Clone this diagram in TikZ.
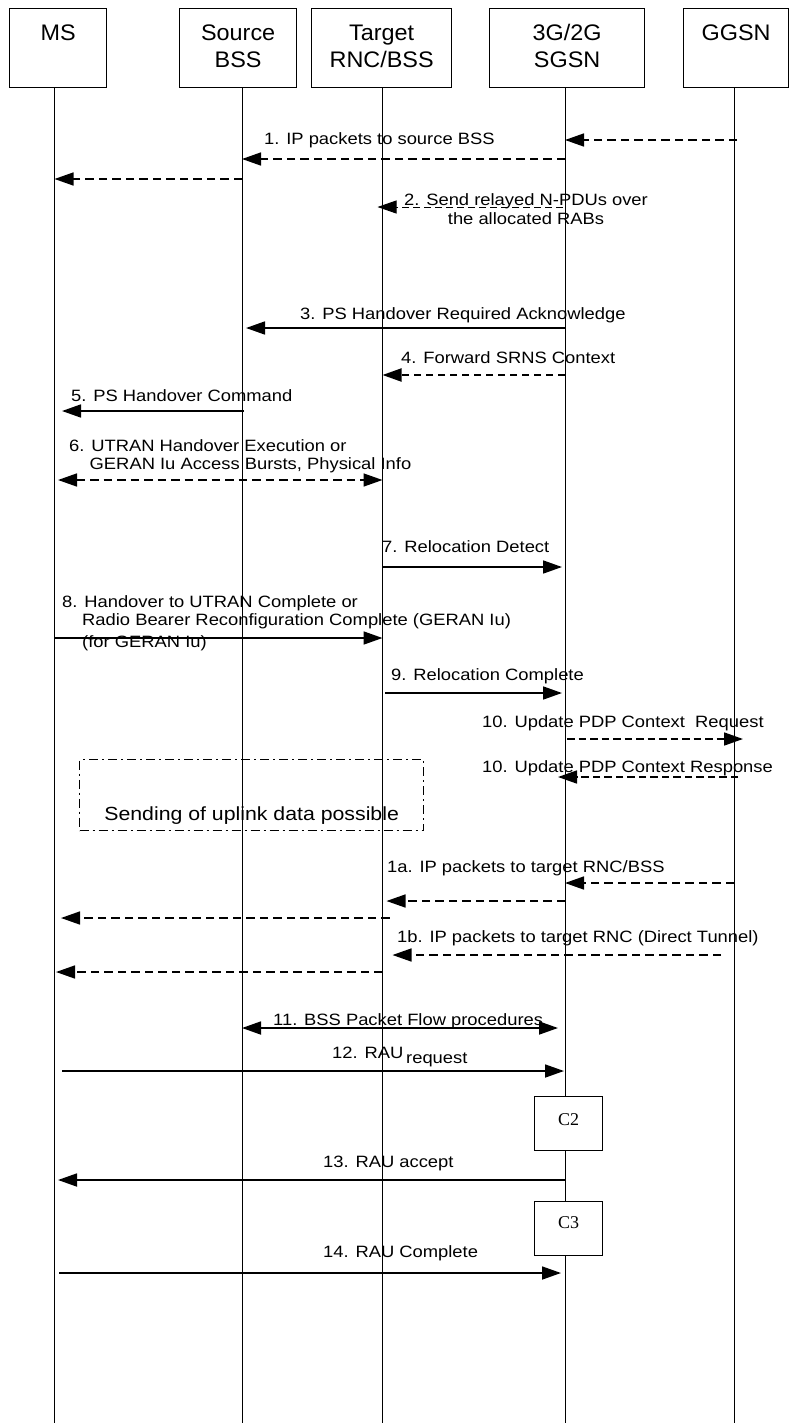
\documentclass[tikz,border=0pt]{standalone}
\usepackage{fontspec}
\newfontfamily\hf[FakeStretch=1.04]{Liberation Sans}
\newfontfamily\mf[FakeStretch=1.12]{Liberation Sans}
\newfontfamily\cf{Liberation Serif}
\usetikzlibrary{arrows.meta,calc}
\begin{document}
\begin{tikzpicture}[x=1pt,y=-1pt,
 >={Triangle[length=19pt,width=13pt]},
 hdr/.style={draw, line width=1.3pt, fill=white, inner sep=0pt, anchor=north west, minimum height=79pt},
 hdrtxt/.style={font=\hf\fontsize{22.5}{27}\selectfont, inner sep=0pt, align=center, anchor=base},
 lbl/.style={font=\mf\fontsize{16.4}{18}\selectfont, inner sep=0pt, anchor=base west, align=left},
 life/.style={line width=1pt},
 msg/.style={line width=1.7pt, ->},
 dmsg/.style={line width=1.5pt, dash pattern=on 8.5pt off 5pt, ->},
 cbox/.style={draw, line width=1.3pt, fill=white, minimum width=68pt, minimum height=54pt, inner sep=0pt, anchor=north west},
 ctxt/.style={font=\cf\fontsize{18}{20}\selectfont, inner sep=0pt, anchor=base}
]
\useasboundingbox (0,0) rectangle (789,1427);
\fill[white] (0,0) rectangle (789,1427);

% header boxes
\node[hdr, minimum width=97pt] (ms) at (9,8) {};
\node[hdr, minimum width=117pt] (src) at (179,8) {};
\node[hdr, minimum width=140pt] (tgt) at (311,8) {};
\node[hdr, minimum width=155pt] (sgsn) at (489,8) {};
\node[hdr, minimum width=105pt] (ggsn) at (683,8) {};
\node[hdrtxt] (msT) at (ms.center |- 0,40) {MS};
\node[hdrtxt] (srcT) at (src.center |- 0,67) {Source\\BSS};
\node[hdrtxt] (tgtT) at (tgt.center |- 0,67) {Target\\RNC/BSS};
\node[hdrtxt] (sgsnT) at (sgsn.center |- 0,67) {3G/2G\\SGSN};
\node[hdrtxt] (ggsnT) at (ggsn.center |- 0,40) {GGSN};

% lifelines
\coordinate (Lms) at (54.5,87);
\coordinate (Lsrc) at (242,87);
\coordinate (Ltgt) at (382.5,87);
\coordinate (Lsgsn) at (565,87);
\coordinate (Lggsn) at (734,87);
\foreach \l in {Lms,Lsrc,Ltgt,Lsgsn,Lggsn}{
  \draw[life] (\l) -- (\l |- 0,1423);
}

% 1
\node[lbl] (t1) at (264,144) {1. IP packets to source BSS};
\draw[dmsg] ($(Lggsn |- 0,140)+(3,0)$) -- (Lsgsn |- 0,140);
\draw[dmsg] (Lsgsn |- 0,159) -- (Lsrc |- 0,159);
\draw[dmsg] (Lsrc |- 0,179) -- (Lms |- 0,179);

% 2
\node[font=\mf\fontsize{16.4}{19}\selectfont, inner sep=0pt, align=center, anchor=base] (t2) at (526,224) {2. Send relayed N-PDUs over\\the allocated RABs};
\draw[line width=1pt, dash pattern=on 7pt off 4pt, ->] ($(Lsgsn |- 0,207)+(-2,0)$) -- ($(Ltgt |- 0,207)+(-5,0)$);

% 3
\node[lbl] (t3) at (300,319) {3. PS Handover Required Acknowledge};
\draw[msg] (Lsgsn |- 0,328) -- ($(Lsrc |- 0,328)+(4,0)$);

% 4
\node[lbl] (t4) at (401,363) {4. Forward SRNS Context};
\draw[line width=2pt, dash pattern=on 7.5pt off 4.5pt, ->] (Lsgsn |- 0,375) -- (Ltgt |- 0,375);

% 5
\node[lbl] (t5) at (71,401) {5. PS Handover Command};
\draw[msg] ($(Lsrc |- 0,411)+(2,0)$) -- ($(Lms |- 0,411)+(7.5,0)$);

% 6
\node[lbl] (t6) at (69,469) {6. UTRAN Handover Execution or\\\hspace*{20.5pt}GERAN Iu Access Bursts, Physical Info};
\draw[dmsg, <->] ($(Lms |- 0,480)+(3.5,0)$) -- (Ltgt |- 0,480);

% 7
\node[lbl] (t7) at (382,552) {7. Relocation Detect};
\draw[msg] (Ltgt |- 0,567) -- ($(Lsgsn |- 0,567)+(-3,0)$);

% 8
\node[lbl] (t8) at (62,625) {8. Handover to UTRAN Complete or\\\hspace*{20pt}Radio Bearer Reconfiguration Complete (GERAN Iu)};
\node[lbl] (t8b) at (82,647) {(for GERAN Iu)};
\draw[msg] (Lms |- 0,638) -- (Ltgt |- 0,638);

% 9
\node[lbl] (t9) at (391,680) {9. Relocation Complete};
\draw[msg] ($(Ltgt |- 0,693)+(2.5,0)$) -- ($(Lsgsn |- 0,693)+(-3,0)$);

% 10
\node[lbl] (t10a) at (482,727) {10. Update PDP Context\ \ Request};
\draw[line width=1.7pt, dash pattern=on 7.5pt off 4pt, ->] ($(Lsgsn |- 0,739)+(2,0)$) -- ($(Lggsn |- 0,739)+(9,0)$);
\node[lbl] (t10b) at (482,772) {10. Update PDP Context Response};
\draw[line width=1.7pt, dash pattern=on 7.5pt off 4pt, ->] ($(Lggsn |- 0,777)+(4,0)$) -- ($(Lsgsn |- 0,777)+(-7,0)$);

% uplink box
\node[draw, line width=1.3pt, dash pattern=on 9pt off 4pt on 2pt off 4pt, minimum width=344pt, minimum height=71pt, inner sep=0pt, anchor=north west] (upl) at (79,759) {};
\node[font=\mf\fontsize{19}{22}\selectfont, inner sep=0pt, anchor=base] (uplT) at (upl.center |- 0,820) {Sending of uplink data possible};

% 1a
\node[lbl] (t1a) at (387,872) {1a. IP packets to target RNC/BSS};
\draw[dmsg] (Lggsn |- 0,883) -- (Lsgsn |- 0,883);
\draw[dmsg] (Lsgsn |- 0,901) -- ($(Ltgt |- 0,901)+(4,0)$);
\draw[dmsg] ($(Ltgt |- 0,918)+(7,0)$) -- ($(Lms |- 0,918)+(6.5,0)$);

% 1b
\node[lbl] (t1b) at (397,942) {1b. IP packets to target RNC (Direct Tunnel)};
\draw[dmsg] ($(Lggsn |- 0,955)+(-13,0)$) -- ($(Ltgt |- 0,955)+(10,0)$);
\draw[dmsg] (Ltgt |- 0,972) -- ($(Lms |- 0,972)+(1.5,0)$);

% 11
\node[lbl] (t11) at (273,1025) {11. BSS Packet Flow procedures};
\draw[msg, <->] (Lsrc |- 0,1028) -- ($(Lsgsn |- 0,1028)+(-7,0)$);

% 12
\node[lbl] (t12) at (332,1058) {12. RAU};
\node[lbl] (t12b) at (406,1063) {request};
\draw[msg] ($(Lms |- 0,1071)+(7.5,0)$) -- ($(Lsgsn |- 0,1071)+(-1,0)$);

% C2
\node[cbox] (c2) at (534,1096) {};
\node[ctxt] (c2T) at (c2.center |- 0,1125) {C2};

% 13
\node[lbl] (t13) at (323,1167) {13. RAU accept};
\draw[msg] (Lsgsn |- 0,1180) -- ($(Lms |- 0,1180)+(3.5,0)$);

% C3
\node[cbox] (c3) at (534,1201) {};
\node[ctxt] (c3T) at (c3.center |- 0,1228) {C3};

% 14
\node[lbl] (t14) at (323,1257) {14. RAU Complete};
\draw[msg] ($(Lms |- 0,1273)+(4.5,0)$) -- ($(Lsgsn |- 0,1273)+(-4,0)$);
\end{tikzpicture}
\end{document}
